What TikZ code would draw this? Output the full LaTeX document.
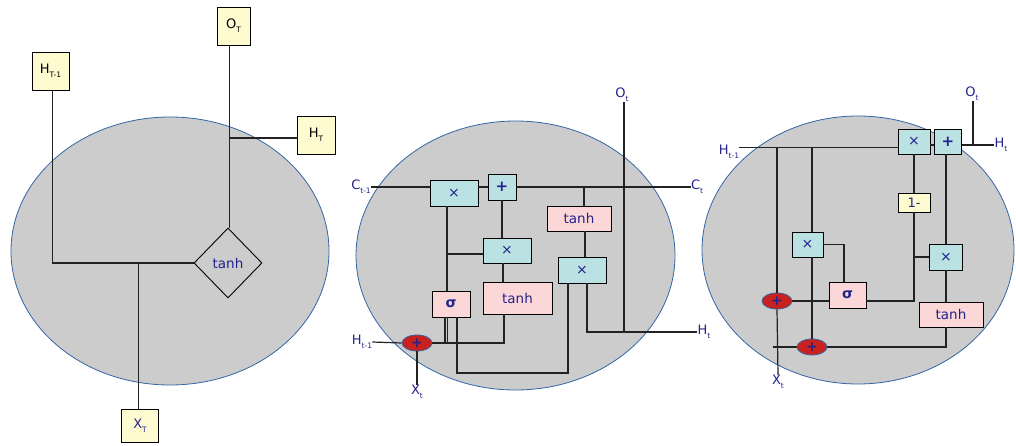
\documentclass[tikz,border=0pt]{standalone}
\usepackage{fontspec}
\setmainfont{DejaVu Sans}
\usetikzlibrary{shapes.geometric}
\definecolor{navy}{RGB}{35,35,140}
\definecolor{cellgray}{RGB}{204,204,204}
\definecolor{cellblue}{RGB}{52,101,164}
\definecolor{yel}{RGB}{255,251,208}
\definecolor{cyanbox}{RGB}{186,226,226}
\definecolor{pinkbox}{RGB}{252,215,215}
\definecolor{redc}{RGB}{201,33,30}
\definecolor{wire}{RGB}{34,34,34}
\newcommand\lsub[1]{\raisebox{-0.55ex}{\fontsize{7.5}{7.5}\selectfont #1}}
\tikzset{
  cell/.style={fill=cellgray, draw=cellblue, line width=0.8pt},
  ybox/.style={draw=black, fill=yel, line width=0.9pt, inner sep=0pt, font=\fontsize{13}{15}\selectfont},
  cbox/.style={draw=black, fill=cyanbox, line width=0.9pt, inner sep=0pt, text=navy, font=\fontsize{14}{16}\selectfont},
  pbox/.style={draw=black, fill=pinkbox, line width=0.9pt, inner sep=0pt, text=navy, font=\fontsize{13.5}{15}\selectfont},
  rcirc/.style={ellipse, draw=cellblue, fill=redc, line width=0.8pt, inner sep=0pt, minimum width=30pt, minimum height=16pt, text=navy, font=\fontsize{14}{15}\selectfont\bfseries},
  lab/.style={inner sep=0pt, text=navy, font=\fontsize{13}{15}\selectfont},
  wireln/.style={draw=wire, line width=1.2pt},
}
\begin{document}
\begin{tikzpicture}[x=1pt, y=-1pt]
\useasboundingbox (0,0) rectangle (1016,446);
% ---------- Panel 1 ----------
\draw[cell] (170,251) ellipse [x radius=159, y radius=134];
\node[ybox, minimum width=37pt, minimum height=38pt] (h1) at (50.5,71) {H\lsub{T-1}};
\node[ybox, minimum width=33pt, minimum height=38pt] (o1) at (233.5,26) {O\lsub{T}};
\node[ybox, minimum width=38pt, minimum height=38pt] (ht1) at (316,135) {H\lsub{T}};
\node[ybox, minimum width=37pt, minimum height=33pt, text=navy] (x1) at (140,426) {X\lsub{T}};
\node[diamond, draw=black, line width=0.9pt, inner sep=0pt, minimum width=68pt, minimum height=70pt, text=navy, font=\fontsize{13.5}{15}\selectfont] (d1) at (228,263) {tanh};
\draw[wireln] ([xshift=2pt]h1.south) |- (d1.west);
\draw[wireln] ([xshift=-1.5pt]x1.north) -- ([xshift=-1.5pt]x1.north |- d1.west);
\draw[wireln] ([xshift=1.5pt]d1.north |- o1.south) -- ([xshift=1.5pt]d1.north);
\draw[wireln] ([yshift=-3pt]ht1.west) -- ([yshift=-3pt,xshift=1.5pt]ht1.west -| d1.north);
% ---------- Panel 2 ----------
\draw[cell] (515.5,255.5) ellipse [x radius=159.5, y radius=134.5];
\node[cbox, minimum width=48pt, minimum height=26pt] (cm1) at (454,193) {×};
\node[cbox, minimum width=28pt, minimum height=26pt, font=\fontsize{15}{16}\selectfont\bfseries] (cp) at (502,187) {+};
\node[pbox, minimum width=64pt, minimum height=25pt] (th1) at (579,218.5) {tanh};
\node[cbox, minimum width=48pt, minimum height=25pt] (cm2) at (507,250.5) {×};
\node[cbox, minimum width=48pt, minimum height=26pt] (cm3) at (582,270) {×};
\node[pbox, minimum width=38pt, minimum height=26pt, font=\fontsize{14}{15}\selectfont\bfseries] (sg) at (451,304) {σ};
\node[pbox, minimum width=69pt, minimum height=32pt] (th2) at (517.5,298) {tanh};
\node[rcirc] (ci) at (417,343) {+};
\node[lab] (cl) at (361,187) {C\lsub{t-1}};
\node[lab] (ct) at (697,187) {C\lsub{t}};
\node[lab] (hl2) at (362,342) {H\lsub{t-1}};
\node[lab] (ht2) at (704,332) {H\lsub{t}};
\node[lab] (xt2) at (417,392) {X\lsub{t}};
\node[lab] (ot2) at (622,95) {O\lsub{t}};
\draw[wireln] (cl.east) -- (cl.east -| cm1.west);
\draw[wireln] (cm1.east |- cp.west) -- (cp.west);
\draw[wireln] (cp.east) -- (ct.west);
\draw[wireln] ([xshift=5pt]th1.north) -- ([xshift=5pt]th1.north |- cp.east);
\draw[wireln] ([xshift=6pt]th1.south) -- ([xshift=6pt]th1.south |- cm3.north);
\draw[wireln] (cp.south) -- (cp.south |- cm2.north);
\draw[wireln] ([xshift=-4pt]cm2.south) -- ([xshift=-4pt]cm2.south |- th2.north);
\draw[wireln] ([xshift=-7pt]cm1.south) -- ([xshift=-7pt]cm1.south |- sg.north);
\draw[wireln] ([xshift=-7pt,yshift=-3.5pt]cm1.south |- cm2.west) -- ([yshift=-3.5pt]cm2.west);
\draw[wireln] ([xshift=-6pt]sg.south) -- ([xshift=-6pt]sg.south |- ci.east);
\draw[wireln] ([xshift=-3.5pt]sg.south) -- ([xshift=-3.5pt]sg.south |- ci.east);
\draw[wireln] (ci.east) -| ([xshift=-13.5pt]th2.south);
\coordinate (b2) at (568,373);
\draw[wireln] ([xshift=6pt]sg.south) |- (b2) -- (b2 |- cm3.south);
\draw[wireln] ([xshift=5pt]cm3.south) |- (ht2.west);
\draw[wireln] ([xshift=2pt]ot2.south) -- ([xshift=2pt]ot2.south |- ht2.west);
\draw[wireln] (hl2.east) -- (ci.west);
\draw[wireln] (ci.south) -- (xt2.north);
% ---------- Panel 3 ----------
\draw[cell] (858,250) ellipse [x radius=156, y radius=134];
\node[cbox, minimum width=32pt, minimum height=25pt] (tm) at (914,141.5) {×};
\node[cbox, minimum width=27pt, minimum height=25pt, font=\fontsize{15}{16}\selectfont\bfseries] (tp) at (948,141.5) {+};
\node[ybox, minimum width=32pt, minimum height=19pt, text=navy] (one) at (914,202.5) {1-};
\node[cbox, minimum width=33pt, minimum height=26pt] (rm) at (946,257) {×};
\node[pbox, minimum width=64pt, minimum height=25pt] (th3) at (951,314.5) {tanh};
\node[cbox, minimum width=31pt, minimum height=25pt] (lm) at (807.5,244.5) {×};
\node[pbox, minimum width=37pt, minimum height=26pt, font=\fontsize{14}{15}\selectfont\bfseries] (sg3) at (847.5,295) {σ};
\node[rcirc] (c1) at (777,301) {+};
\node[rcirc] (c2) at (812,347) {+};
\node[lab] (hl3) at (729,152) {H\lsub{t-1}};
\node[lab] (ht3) at (1001,145) {H\lsub{t}};
\node[lab] (ot3) at (972,94) {O\lsub{t}};
\node[lab] (xt3) at (778,382) {X\lsub{t}};
\coordinate (hs) at (739,147.5);
\draw[wireln] (hs) -- (hs -| tm.west);
\draw[wireln] ([yshift=-3.5pt]tm.east) -- ([yshift=-3.5pt]tp.west);
\draw[wireln] ([yshift=-3.5pt]tp.east) -- (ht3.west);
\draw[wireln] ([xshift=1pt]ot3.south) -- ([xshift=1pt]ot3.south |- ht3.west);
\draw[wireln] (c1.north |- hs) -- (c1.north);
\draw[wireln] (c1.south) -- (xt3.north);
\draw[wireln] (c2.north |- hs) -- (c2.north |- lm.north);
\draw[wireln] (c2.north |- lm.south) -- (c2.north);
\draw[wireln] (lm.east) -| ([xshift=-3.5pt]sg3.north);
\draw[wireln] (c1.east) -- (c1.east -| sg3.west);
\draw[wireln] (tm.south) -- (one.north);
\draw[wireln] (one.south) |- ([yshift=-6pt]sg3.east);
\draw[wireln] (one.south |- rm.west) -- (rm.west);
\draw[wireln] (rm.north |- tp.south) -- (rm.north);
\draw[wireln] (rm.south) -- (rm.south |- th3.north);
\draw[wireln] (rm.south |- th3.south) |- (c2.east);
\draw[wireln] ([xshift=-4pt]c1.south |- c2.west) -- (c2.west);
\end{tikzpicture}
\end{document}
